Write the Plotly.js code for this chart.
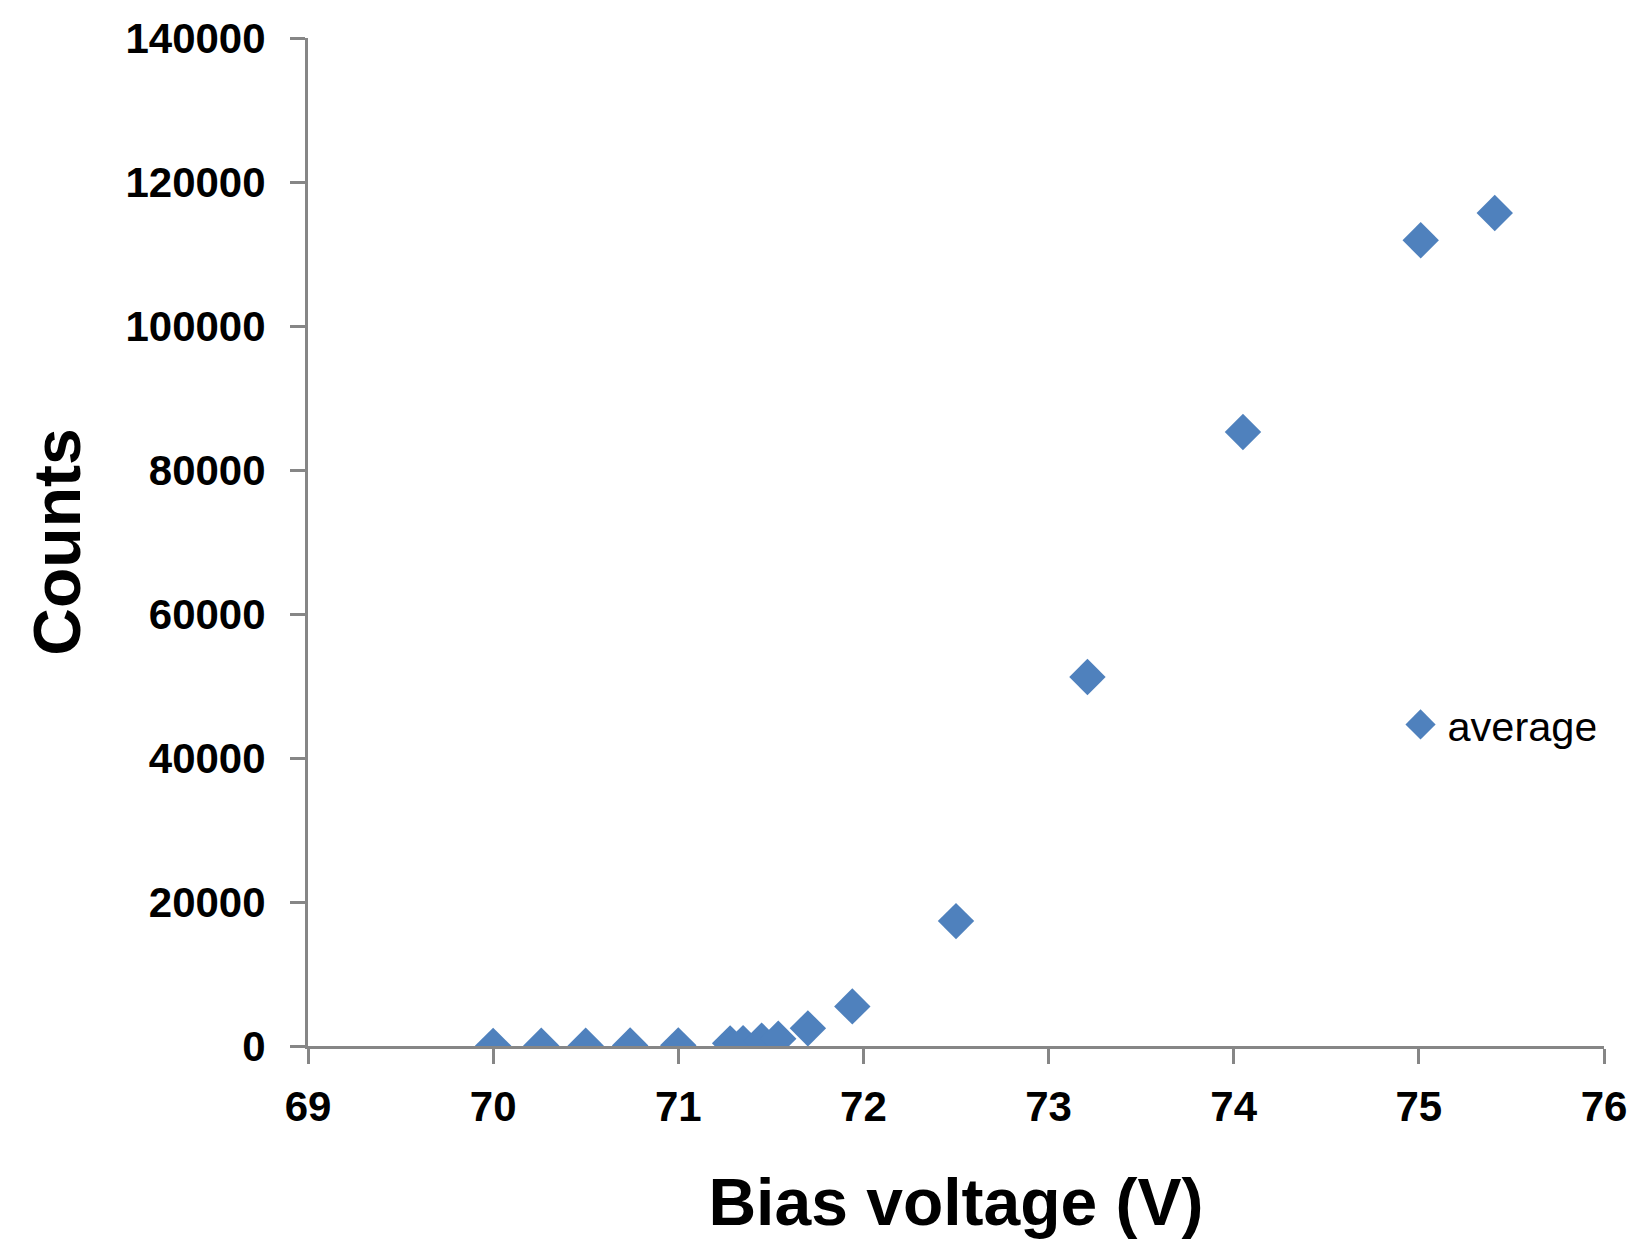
<!DOCTYPE html>
<html>
<head>
<meta charset="utf-8">
<script src="https://cdn.plot.ly/plotly-3.0.1.min.js"></script>
<style>html,body{margin:0;padding:0;background:#fff;}#chart{width:1635px;height:1251px;}</style>
</head>
<body>
<div id="chart"></div>
<script>
// Data
const biasVoltage = [70.0, 70.26, 70.5, 70.74, 71.0, 71.28, 71.35, 71.45, 71.54, 71.7, 71.94, 72.5, 73.21, 74.05, 75.01, 75.41];
const counts = [20, 30, 40, 60, 90, 370, 400, 740, 1020, 2450, 5500, 17350, 51250, 85270, 111900, 115700];
const seriesName = "average";
const xTitle = "Bias voltage (V)";
const yTitle = "Counts";

const blue = "#4F81BD";
const axisGray = "#868686";
const tickFont = {family: "Liberation Sans, Arial, sans-serif", size: 42, color: "#000", weight: "bold"};
const titleFont = {family: "Liberation Sans, Arial, sans-serif", size: 66, color: "#000", weight: "bold"};

const trace = {
  x: biasVoltage,
  y: counts,
  type: "scatter",
  mode: "markers",
  name: seriesName,
  marker: {symbol: "diamond", size: 28, color: blue, line: {width: 0}},
  showlegend: true
};

const layout = {
  width: 1635,
  height: 1251,
  paper_bgcolor: "#fff",
  plot_bgcolor: "#fff",
  margin: {l: 308, r: 31, t: 38, b: 205, pad: 0},
  showlegend: true,
  legend: {
    x: 0.843, y: 0.319, xanchor: "left", yanchor: "middle",
    font: {family: "Liberation Sans, Arial, sans-serif", size: 41.5, color: "#000"},
    bgcolor: "rgba(0,0,0,0)", borderwidth: 0
  },
  xaxis: {
    range: [69, 76],
    tick0: 69, dtick: 1,
    showgrid: false, zeroline: false,
    showline: true, linecolor: axisGray, linewidth: 3,
    ticks: "outside", ticklen: 15, tickwidth: 3, tickcolor: axisGray,
    tickfont: tickFont,
    ticklabelstandoff: 7,
    automargin: false,
    title: {text: xTitle, font: titleFont, standoff: 50}
  },
  yaxis: {
    range: [0, 140000],
    tick0: 0, dtick: 20000,
    showgrid: false, zeroline: false,
    showline: true, linecolor: axisGray, linewidth: 3,
    ticks: "outside", ticklen: 15, tickwidth: 3, tickcolor: axisGray,
    tickfont: tickFont,
    ticklabelstandoff: 16,
    tickformat: "d",
    automargin: false,
    title: {text: yTitle, font: titleFont, standoff: 24}
  }
};

Plotly.newPlot("chart", [trace], layout, {displayModeBar: false, staticPlot: true}).then(function(){
  document.querySelectorAll(".legend .legendpoints path").forEach(function(p){
    const t = p.getAttribute("transform") || "";
    p.setAttribute("transform", t + " scale(1.45)");
  });
  document.querySelectorAll(".legend .legendtext").forEach(function(t){
    const x = parseFloat(t.getAttribute("x") || "0");
    t.setAttribute("x", x + 7);
  });
});
</script>
</body>
</html>
